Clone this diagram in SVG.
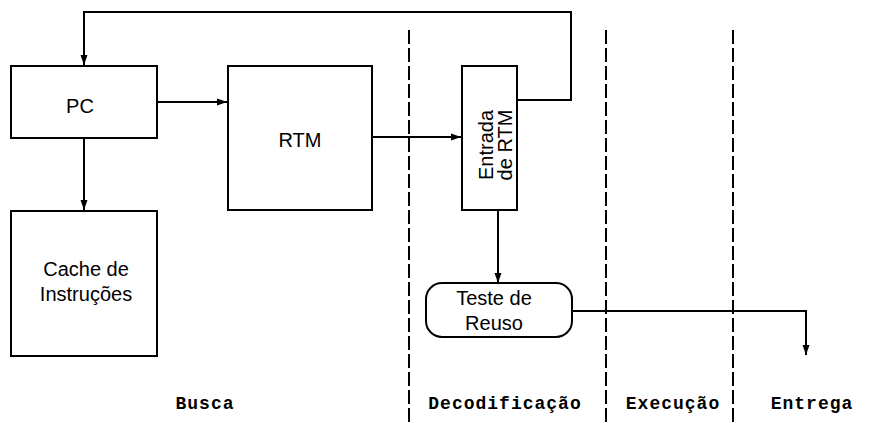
<svg xmlns="http://www.w3.org/2000/svg" width="870" height="423" viewBox="0 0 870 423">
<defs>
<style>
.box{fill:#fff;stroke:#000;stroke-width:2}
.ln{fill:none;stroke:#000;stroke-width:2}
.dash{fill:none;stroke:#000;stroke-width:2;stroke-dasharray:14 4}
.t{font-family:"Liberation Sans",Arial,sans-serif;font-size:20px;fill:#000;text-anchor:middle}
.st{font-family:"Liberation Mono","Courier New",monospace;font-weight:bold;font-size:18px;letter-spacing:1px;fill:#000;text-anchor:middle}
</style>
<marker id="ah" markerWidth="10" markerHeight="8" refX="10" refY="4" orient="auto" markerUnits="userSpaceOnUse">
<path d="M0,0.5 L10,4 L0,7.5 Z" fill="#000"/>
</marker>
</defs>
<rect width="870" height="423" fill="#fff"/>
<g id="stages">
<line class="dash" x1="409" y1="30" x2="409" y2="423"/>
<line class="dash" x1="606" y1="30" x2="606" y2="423"/>
<line class="dash" x1="733" y1="30" x2="733" y2="423"/>
</g>
<g id="connectors">
<path class="ln" d="M517,100 H571 V12 H84 V65" marker-end="url(#ah)"/>
<path class="ln" d="M157,102 H227" marker-end="url(#ah)"/>
<path class="ln" d="M84,138 V210" marker-end="url(#ah)"/>
<path class="ln" d="M372,137 H461" marker-end="url(#ah)"/>
<path class="ln" d="M498,210 V283" marker-end="url(#ah)"/>
<path class="ln" d="M572,311 H806 V355" marker-end="url(#ah)"/>
</g>
<g id="pc">
<rect class="box" x="11" y="66" width="146" height="72"/>
<text class="t" x="80" y="113">PC</text>
</g>
<g id="rtm">
<rect class="box" x="228" y="66" width="144" height="144"/>
<text class="t" x="300" y="147">RTM</text>
</g>
<g id="cache">
<rect class="box" x="11" y="211" width="146" height="145"/>
<text class="t" x="86" y="276">Cache de</text>
<text class="t" x="86" y="301">Instruções</text>
</g>
<g id="entrada">
<rect class="box" x="462" y="66" width="55" height="144"/>
<text class="t" transform="translate(493,145) rotate(-90)">Entrada</text>
<text class="t" transform="translate(512,145) rotate(-90)">de RTM</text>
</g>
<g id="teste">
<rect class="box" x="426" y="283" width="146" height="54" rx="16" ry="16"/>
<text class="t" x="494" y="305">Teste de</text>
<text class="t" x="494" y="330">Reuso</text>
</g>
<g id="labels">
<text class="st" x="205" y="409">Busca</text>
<text class="st" x="505" y="409">Decodificação</text>
<text class="st" x="673" y="409">Execução</text>
<text class="st" x="812" y="409">Entrega</text>
</g>
</svg>
